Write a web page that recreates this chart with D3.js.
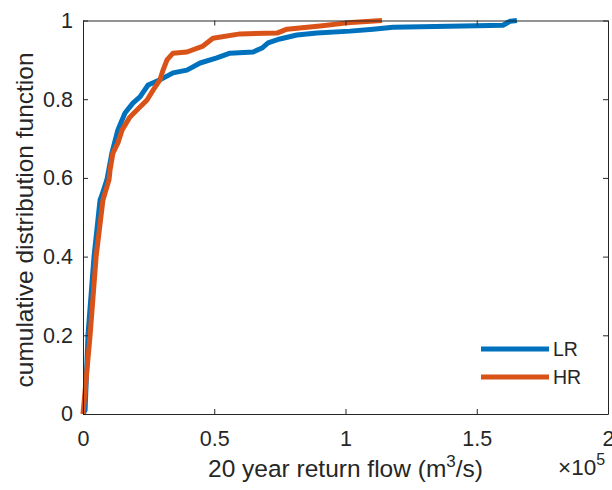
<!DOCTYPE html>
<html>
<head>
<meta charset="utf-8">
<script src="https://cdn.jsdelivr.net/npm/d3@7"></script>
<style>
  body { margin: 0; background: #fff; }
  svg { display: block; font-family: "Liberation Sans", Arial, sans-serif; }
</style>
</head>
<body>
<div id="plot"></div>
<script>
// values in units of 1e5 m^3/s
const lrFlow = [0, 0.008, 0.019, 0.042, 0.065, 0.072, 0.091, 0.11, 0.133, 0.16, 0.19, 0.217, 0.248, 0.293, 0.343, 0.396, 0.446, 0.51, 0.56, 0.648, 0.682, 0.705, 0.75, 0.815, 0.891, 1.017, 1.105, 1.181, 1.448, 1.6, 1.627, 1.653];
const lrCdf  = [0, 0.01, 0.2, 0.4, 0.544, 0.556, 0.595, 0.663, 0.722, 0.765, 0.79, 0.806, 0.836, 0.849, 0.867, 0.874, 0.892, 0.905, 0.917, 0.92, 0.93, 0.943, 0.953, 0.963, 0.968, 0.973, 0.978, 0.983, 0.986, 0.988, 0.998, 1.0];

const hrFlow = [0, 0.027, 0.05, 0.076, 0.099, 0.103, 0.114, 0.133, 0.149, 0.179, 0.217, 0.244, 0.267, 0.293, 0.305, 0.32, 0.343, 0.396, 0.457, 0.495, 0.598, 0.739, 0.777, 0.903, 1.006, 1.139];
const hrCdf  = [0, 0.2, 0.4, 0.544, 0.595, 0.62, 0.663, 0.689, 0.722, 0.755, 0.78, 0.798, 0.823, 0.849, 0.874, 0.9, 0.917, 0.92, 0.935, 0.955, 0.966, 0.968, 0.978, 0.986, 0.994, 1.0];

const xTicks = [0, 0.5, 1, 1.5, 2];
const yTicks = [0, 0.2, 0.4, 0.6, 0.8, 1];

const seriesNames = ["LR", "HR"];
const seriesColors = ["#0072BD", "#D95319"];

const W = 612, H = 490;
const margin = { top: 20.5, right: 4, bottom: 76, left: 83 };
const width = W - margin.left - margin.right;
const height = H - margin.top - margin.bottom;

const x = d3.scaleLinear().domain([0, 2]).range([0, width]);
const y = d3.scaleLinear().domain([0, 1]).range([height, 0]);

const svg = d3.select("#plot")
  .append("svg")
  .attr("width", W)
  .attr("height", H)
  .append("g")
  .attr("transform", `translate(${margin.left},${margin.top})`);

const axisColor = "#262626";

const line = d3.line()
  .x(d => x(d[0]))
  .y(d => y(d[1]));

const series = [
  lrFlow.map((v, i) => [v, lrCdf[i]]),
  hrFlow.map((v, i) => [v, hrCdf[i]])
];

series.forEach((pts, i) => {
  svg.append("path")
    .datum(pts)
    .attr("fill", "none")
    .attr("stroke", seriesColors[i])
    .attr("stroke-width", 5)
    .attr("stroke-linejoin", "round")
    .attr("d", line);
});

// axes (ticks inside, box on)
function styleAxis(g) {
  g.select(".domain").attr("stroke", axisColor).attr("stroke-width", 1);
  g.selectAll(".tick line").attr("stroke", axisColor);
  g.selectAll(".tick text")
    .attr("fill", axisColor)
    .style("font-size", "21.5px")
    .style("font-family", "Liberation Sans, Arial, sans-serif");
}

const fmt = d => d3.format("~g")(d);

svg.append("g")
  .attr("transform", `translate(0,${height})`)
  .call(d3.axisBottom(x).tickValues(xTicks).tickFormat(fmt).tickSizeInner(-5).tickSizeOuter(0).tickPadding(17))
  .call(styleAxis);

svg.append("g")
  .call(d3.axisLeft(y).tickValues(yTicks).tickFormat(fmt).tickSizeInner(-5).tickSizeOuter(0).tickPadding(10))
  .call(styleAxis);

svg.append("g")
  .call(d3.axisTop(x).tickValues(xTicks).tickFormat("").tickSizeInner(-5).tickSizeOuter(0))
  .call(styleAxis);

svg.append("g")
  .attr("transform", `translate(${width},0)`)
  .call(d3.axisRight(y).tickValues(yTicks).tickFormat("").tickSizeInner(-5).tickSizeOuter(0))
  .call(styleAxis);

// axis labels
svg.append("text")
  .attr("x", width / 2)
  .attr("y", height + 63)
  .attr("text-anchor", "middle")
  .attr("fill", axisColor)
  .style("font-size", "24.5px")
  .html('20 year return flow (m<tspan dy="-10" font-size="17px">3</tspan><tspan dy="10">/s)</tspan>');

svg.append("text")
  .attr("x", 558 - margin.left)
  .attr("y", height + 61)
  .attr("fill", axisColor)
  .style("font-size", "22.5px")
  .html('\u00d710<tspan dy="-10" font-size="16px">5</tspan>');

svg.append("text")
  .attr("transform", `translate(${33 - margin.left},${220 - margin.top}) rotate(-90)`)
  .attr("text-anchor", "middle")
  .attr("fill", axisColor)
  .style("font-size", "24.5px")
  .text("cumulative distribution function");

// legend
const legend = svg.append("g")
  .attr("transform", `translate(${481 - margin.left},${349 - margin.top})`);

seriesNames.forEach((name, i) => {
  const row = legend.append("g").attr("transform", `translate(0,${i * 28})`);
  row.append("line")
    .attr("x1", 0).attr("x2", 68)
    .attr("stroke", seriesColors[i])
    .attr("stroke-width", 5);
  row.append("text")
    .attr("x", 72)
    .attr("dy", "0.35em")
    .attr("fill", axisColor)
    .style("font-size", "19.5px")
    .text(name);
});
</script>
</body>
</html>
